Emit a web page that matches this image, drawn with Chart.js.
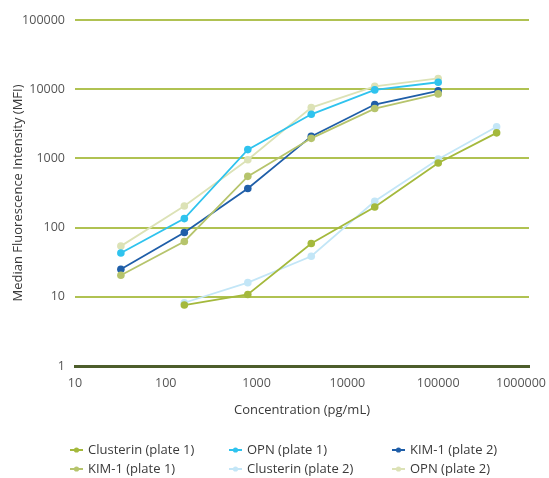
<!DOCTYPE html>
<html>
<head>
<meta charset="utf-8">
<script src="https://cdn.jsdelivr.net/npm/chart.js@4/dist/chart.umd.min.js"></script>
<style>
  html, body { margin: 0; padding: 0; background: #fff; }
  #wrap { position: relative; width: 549px; height: 478px; }
</style>
</head>
<body>
<div id="wrap"><canvas id="c" width="549" height="478"></canvas></div>
<script>
// Standard concentrations (pg/mL)
const concentrations = [32, 160, 800, 4000, 20000, 100000];
const clusterinConcentrations = [160, 800, 4000, 20000, 100000, 440000];

// Median fluorescence intensity per analyte and plate
const clusterinPlate1 = [7.6, 10.8, 59, 198, 860, 2340];
const clusterinPlate2 = [8.2, 16, 38.5, 240, 975, 2860];
const kim1Plate1 = [20.5, 63, 550, 1950, 5250, 8550];
const kim1Plate2 = [25, 85, 368, 2080, 6000, 9450];
const opnPlate1 = [43, 135, 1340, 4340, 9770, 12600];
const opnPlate2 = [54, 205, 957, 5420, 11000, 14300];

// Axis ticks
const xTicks = [10, 100, 1000, 10000, 100000, 1000000];
const yTicks = [1, 10, 100, 1000, 10000, 100000];

// Series names and colours, in legend order (row by row)
const seriesNames = ['Clusterin (plate 1)', 'OPN (plate 1)', 'KIM-1 (plate 2)',
                     'KIM-1 (plate 1)', 'Clusterin (plate 2)', 'OPN (plate 2)'];
const seriesColors = ['#a4b93c', '#2fc3ee', '#1f5ea8', '#b6c46c', '#c3e6f7', '#dce2b6'];

const FONT = "'Open Sans', 'Noto Sans', sans-serif";

function pairs(xs, ys) {
  return ys.map((y, i) => ({ x: xs[i], y: y }));
}

const seriesData = [
  pairs(clusterinConcentrations, clusterinPlate1),
  pairs(concentrations, opnPlate1),
  pairs(concentrations, kim1Plate2),
  pairs(concentrations, kim1Plate1),
  pairs(clusterinConcentrations, clusterinPlate2),
  pairs(concentrations, opnPlate2)
];

const datasets = seriesNames.map((name, i) => ({
  label: name,
  data: seriesData[i],
  borderColor: seriesColors[i],
  backgroundColor: seriesColors[i],
  pointBackgroundColor: seriesColors[i],
  pointBorderColor: seriesColors[i],
  borderWidth: 1.8,
  pointRadius: 3.8,
  pointBorderWidth: 0,
  showLine: true,
  tension: 0,
  order: name.indexOf('plate 1') >= 0 ? 0 : 1
}));

// Legend laid out as a 3-column grid under the axis title
const gridLegend = {
  id: 'gridLegend',
  afterDraw(chart) {
    const ctx = chart.ctx;
    const colX = [70, 229, 392];
    const rowY = [450, 469];
    ctx.save();
    ctx.font = '13px ' + FONT;
    ctx.textBaseline = 'middle';
    ctx.textAlign = 'left';
    seriesNames.forEach((name, i) => {
      const x = colX[i % 3];
      const y = rowY[Math.floor(i / 3)];
      ctx.strokeStyle = seriesColors[i];
      ctx.lineWidth = 2;
      ctx.beginPath();
      ctx.moveTo(x, y);
      ctx.lineTo(x + 13, y);
      ctx.stroke();
      ctx.fillStyle = seriesColors[i];
      ctx.beginPath();
      ctx.arc(x + 6.5, y, 2.6, 0, Math.PI * 2);
      ctx.fill();
      ctx.fillStyle = '#3a3a3a';
      ctx.fillText(name, x + 18, y);
    });
    ctx.restore();
  }
};

// The last x label sits inside the right edge of the chart
const lastXLabel = {
  id: 'lastXLabel',
  afterDraw(chart) {
    const sx = chart.scales.x;
    const items = sx.getLabelItems();
    const first = items[0];
    if (!first) return;
    const ctx = chart.ctx;
    ctx.save();
    ctx.font = '12.5px ' + FONT;
    ctx.fillStyle = '#555';
    ctx.textAlign = 'center';
    ctx.textBaseline = first.options.textBaseline;
    const value = xTicks[xTicks.length - 1];
    const y = first.options.translation[1] + (first.textOffset || 0);
    ctx.fillText(String(value), sx.getPixelForValue(value) - 8, y);
    ctx.restore();
  }
};

new Chart(document.getElementById('c'), {
  type: 'scatter',
  data: { datasets: datasets },
  plugins: [gridLegend, lastXLabel],
  options: {
    responsive: false,
    animation: false,
    layout: { padding: { left: 0, right: 20, top: 20, bottom: 60 } },
    plugins: {
      legend: { display: false },
      tooltip: { enabled: false }
    },
    scales: {
      x: {
        type: 'logarithmic',
        min: 10,
        max: 1000000,
        afterBuildTicks: s => { s.ticks = xTicks.map(v => ({ value: v })); },
        afterFit: s => { s.height = 52; },
        ticks: {
          maxRotation: 0,
          autoSkip: false,
          padding: 10,
          color: '#555',
          font: { family: FONT, size: 12.5 },
          callback: v => (v === xTicks[xTicks.length - 1] ? '' : String(v))
        },
        grid: { display: false, drawTicks: false },
        border: { display: true, color: '#4d5d2b', width: 3 },
        title: {
          display: true,
          text: 'Concentration (pg/mL)',
          color: '#3a3a3a',
          font: { family: FONT, size: 13 },
          padding: { top: 0, bottom: 0 }
        }
      },
      y: {
        type: 'logarithmic',
        min: 1,
        max: 100000,
        afterBuildTicks: s => { s.ticks = yTicks.map(v => ({ value: v })); },
        afterFit: s => { s.width = 75; },
        ticks: {
          padding: 10,
          color: '#555',
          font: { family: FONT, size: 12.5 },
          callback: v => String(v)
        },
        grid: {
          drawTicks: false,
          color: ctx => (ctx.tick && ctx.tick.value === 1 ? '#4d5d2b' : '#b0c252'),
          lineWidth: ctx => (ctx.tick && ctx.tick.value === 1 ? 3 : 2)
        },
        border: { display: false },
        title: {
          display: true,
          text: 'Median Fluorescence Intensity (MFI)',
          color: '#3a3a3a',
          font: { family: FONT, size: 13 },
          padding: { top: 10, bottom: 0 }
        }
      }
    }
  }
});
</script>
</body>
</html>
